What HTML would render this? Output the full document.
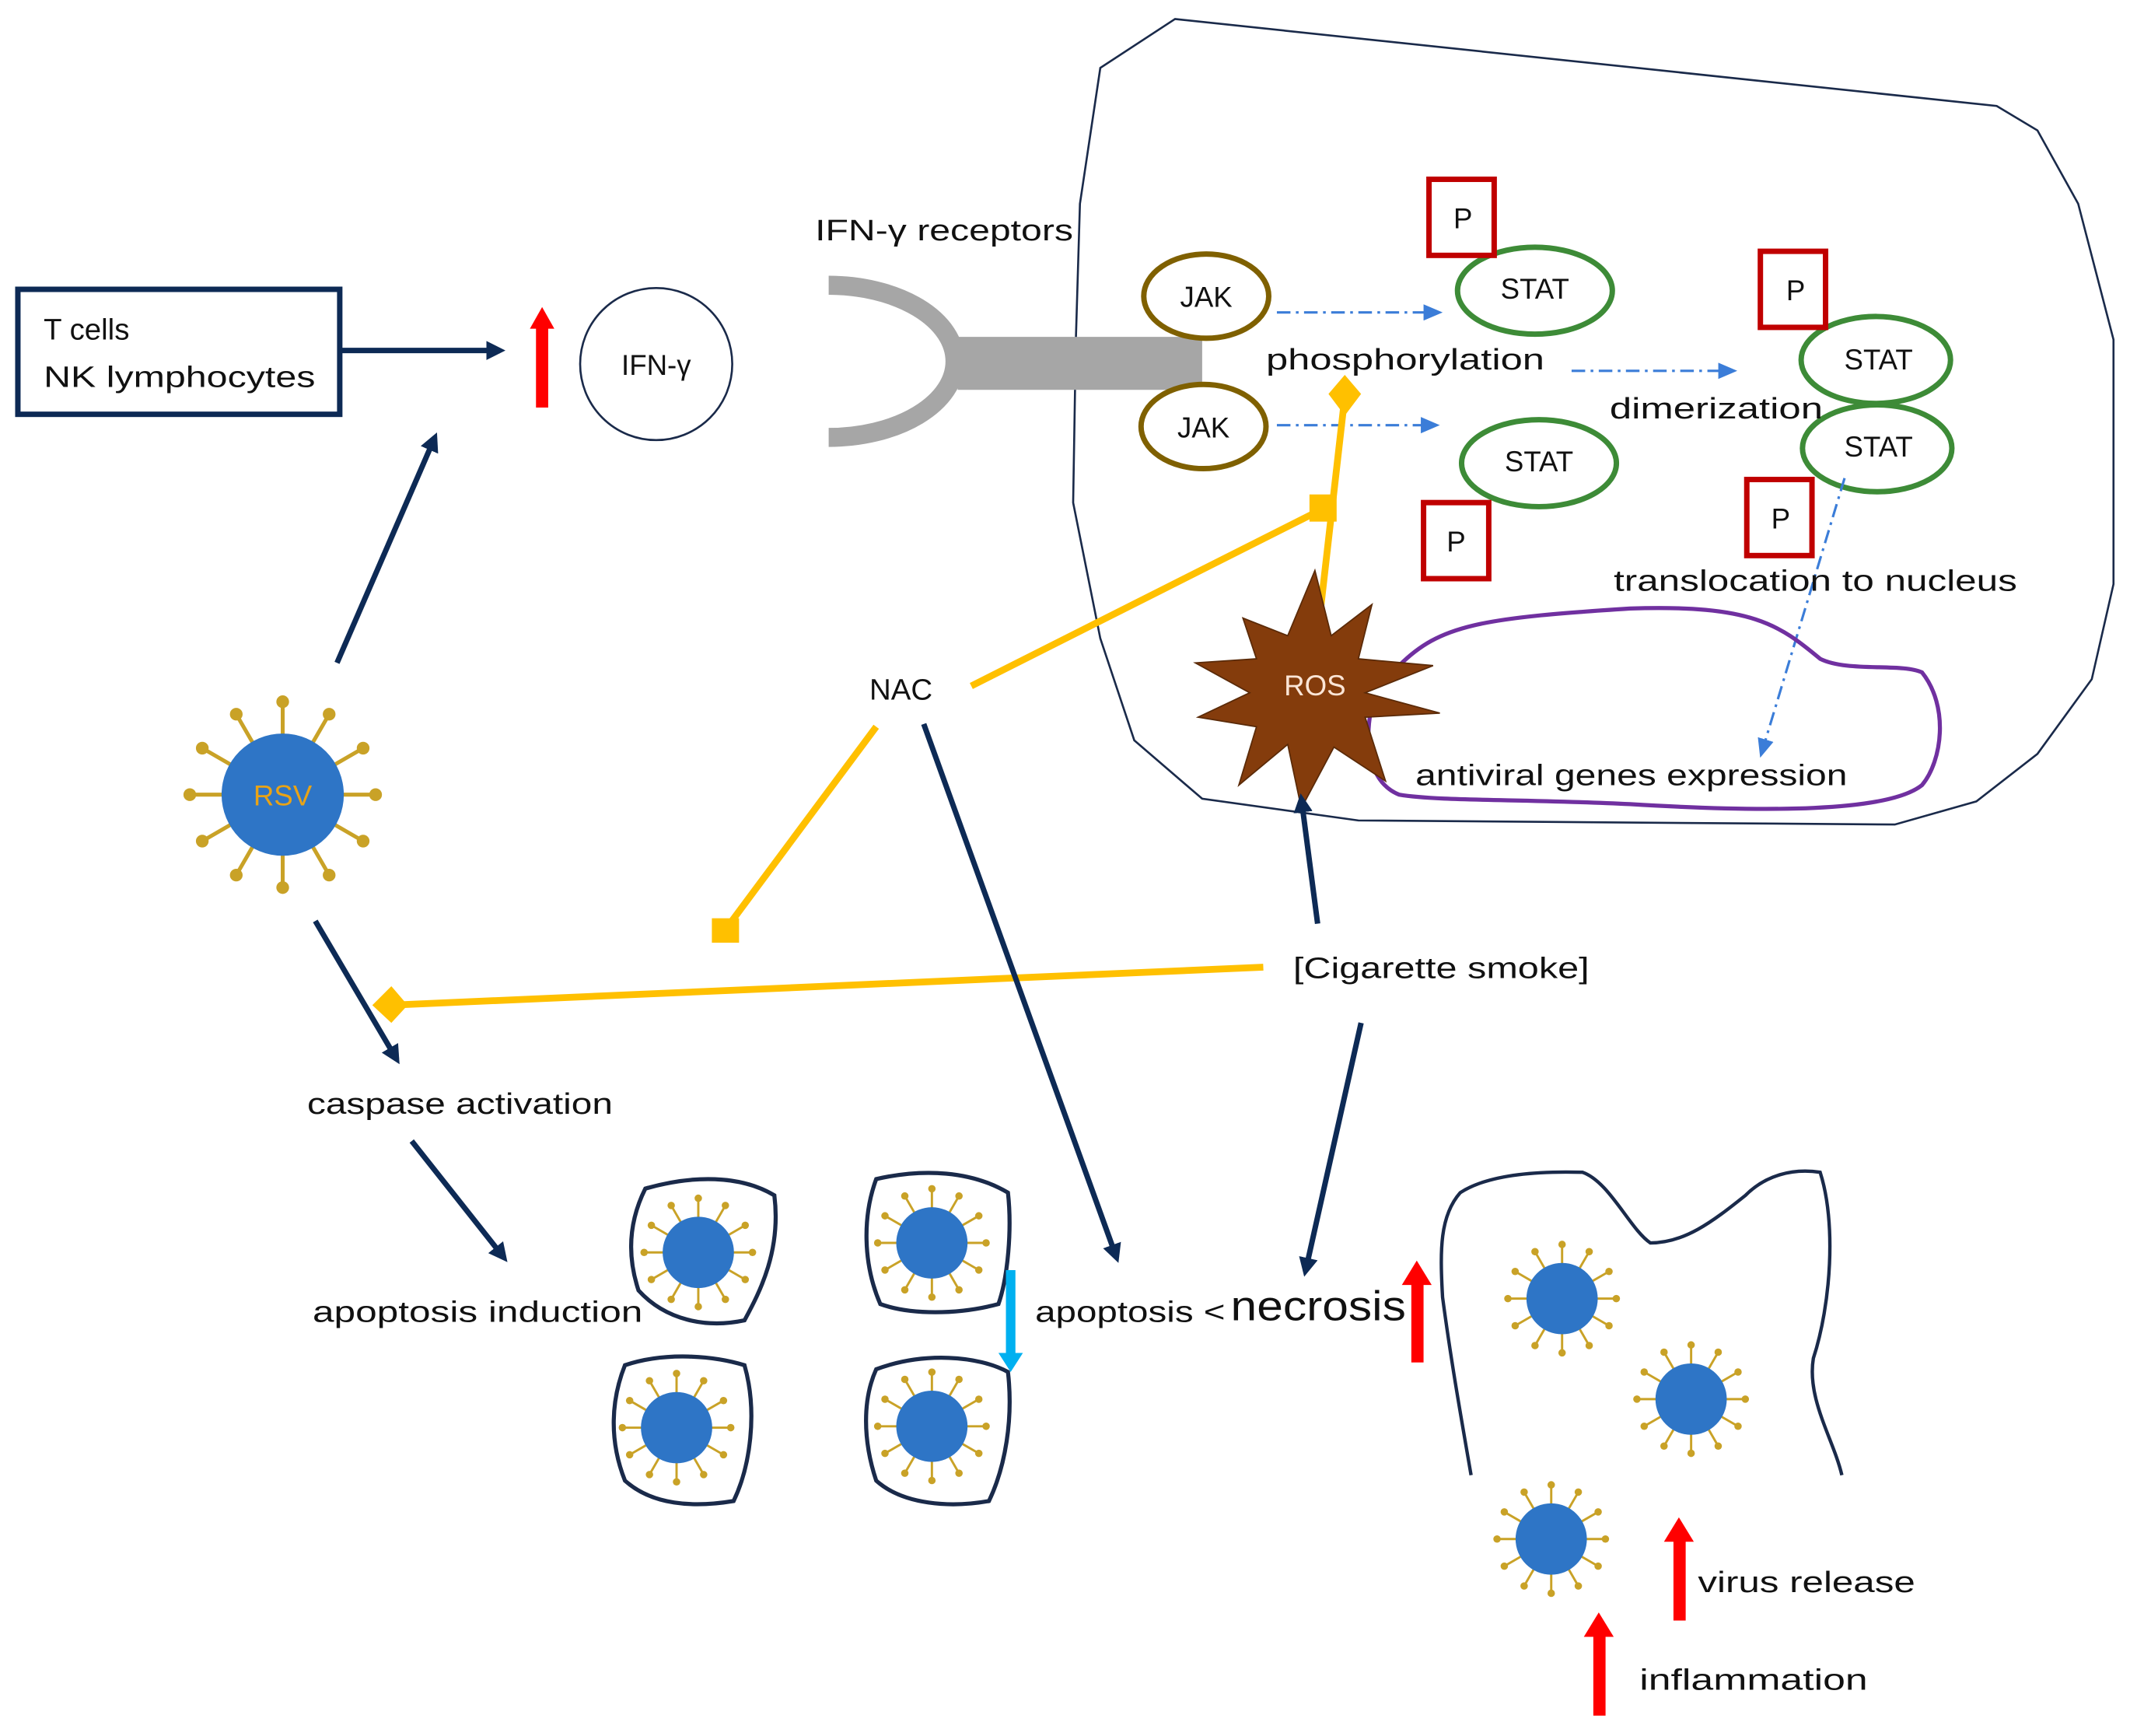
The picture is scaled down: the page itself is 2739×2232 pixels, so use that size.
<!DOCTYPE html>
<html><head><meta charset="utf-8"><style>
html,body{margin:0;padding:0;background:#fff;}
svg{display:block;}
text{font-family:"Liberation Sans",sans-serif;fill:#111;}
</style></head><body>
<svg width="2739" height="2232" viewBox="0 0 1568 1278" xmlns="http://www.w3.org/2000/svg">
<defs>
<marker id="an" markerWidth="8" markerHeight="8" refX="6" refY="4" orient="auto" markerUnits="userSpaceOnUse"><path d="M0,0 L8,4 L0,8 Z" fill="#0d2a55"/></marker>
<marker id="an2" markerWidth="14" markerHeight="14" refX="10" refY="7" orient="auto" markerUnits="userSpaceOnUse"><path d="M0,0 L14,7 L0,14 Z" fill="#0d2a55"/></marker>
<marker id="ab" markerWidth="14" markerHeight="12" refX="10" refY="6" orient="auto" markerUnits="userSpaceOnUse"><path d="M0,0 L14,6 L0,12 Z" fill="#3b7dd8"/></marker>
<g id="vir">
<g stroke="#c9a227" stroke-width="1.6">
<line x1="0" y1="0" x2="38" y2="0"/><line x1="0" y1="0" x2="32.9" y2="19"/><line x1="0" y1="0" x2="19" y2="32.9"/><line x1="0" y1="0" x2="0" y2="38"/><line x1="0" y1="0" x2="-19" y2="32.9"/><line x1="0" y1="0" x2="-32.9" y2="19"/><line x1="0" y1="0" x2="-38" y2="0"/><line x1="0" y1="0" x2="-32.9" y2="-19"/><line x1="0" y1="0" x2="-19" y2="-32.9"/><line x1="0" y1="0" x2="0" y2="-38"/><line x1="0" y1="0" x2="19" y2="-32.9"/><line x1="0" y1="0" x2="32.9" y2="-19"/>
</g>
<g fill="#c9a227">
<circle cx="38" cy="0" r="2.6"/><circle cx="32.9" cy="19" r="2.6"/><circle cx="19" cy="32.9" r="2.6"/><circle cx="0" cy="38" r="2.6"/><circle cx="-19" cy="32.9" r="2.6"/><circle cx="-32.9" cy="19" r="2.6"/><circle cx="-38" cy="0" r="2.6"/><circle cx="-32.9" cy="-19" r="2.6"/><circle cx="-19" cy="-32.9" r="2.6"/><circle cx="0" cy="-38" r="2.6"/><circle cx="19" cy="-32.9" r="2.6"/><circle cx="32.9" cy="-19" r="2.6"/>
</g>
<circle cx="0" cy="0" r="25" fill="#2e75c6"/>
</g>
</defs>

<!-- big cell -->
<path d="M865,14 L1470,78 L1500,96 L1530,150 L1556,250 L1556,430 L1540,500 L1500,555 L1455,590 L1395,607 L1000,604 L885,588 L835,545 L810,470 L790,370 L792,250 L795,150 L810,50 Z" fill="none" stroke="#1a2a4a" stroke-width="1.5"/>

<!-- T cells box -->
<rect x="13" y="213" width="237" height="92" fill="#fff" stroke="#0d2a55" stroke-width="4"/>
<text x="32" y="250" font-size="22">T cells</text>
<text x="32" y="285" font-size="22" textLength="200" lengthAdjust="spacingAndGlyphs">NK lymphocytes</text>
<line x1="250" y1="258" x2="368" y2="258" stroke="#0d2a55" stroke-width="4" marker-end="url(#an2)"/>

<!-- red arrow IFN -->
<line x1="399" y1="300" x2="399" y2="240" stroke="#ff0000" stroke-width="9"/>
<path d="M390,242 L399,226 L408,242 Z" fill="#ff0000"/>
<circle cx="483" cy="268" r="56" fill="#fff" stroke="#1a2a4a" stroke-width="1.5"/>
<text x="483" y="276" font-size="21" text-anchor="middle">IFN-γ</text>

<text x="600" y="177" font-size="22" textLength="190" lengthAdjust="spacingAndGlyphs">IFN-γ receptors</text>
<path d="M610,210 A93,56 0 0 1 610,322" fill="none" stroke="#a6a6a6" stroke-width="14"/>
<rect x="705" y="248" width="180" height="39" fill="#a6a6a6"/>

<!-- JAK -->
<ellipse cx="888" cy="218" rx="46" ry="31" fill="#fff" stroke="#7f6000" stroke-width="4"/>
<text x="888" y="226" font-size="21" text-anchor="middle">JAK</text>
<ellipse cx="886" cy="314" rx="46" ry="31" fill="#fff" stroke="#7f6000" stroke-width="4"/>
<text x="886" y="322" font-size="21" text-anchor="middle">JAK</text>

<!-- STAT -->
<g fill="#fff" stroke="#3d8b37" stroke-width="4">
<ellipse cx="1130" cy="214" rx="57" ry="32"/>
<ellipse cx="1133" cy="341" rx="57" ry="32"/>
<ellipse cx="1381" cy="265" rx="55" ry="32"/>
<ellipse cx="1382" cy="330" rx="55" ry="32"/>
</g>
<g font-size="21" text-anchor="middle">
<text x="1130" y="220">STAT</text><text x="1133" y="347">STAT</text>
<text x="1383" y="272">STAT</text><text x="1383" y="336">STAT</text>
</g>

<!-- P boxes -->
<g fill="#fff" stroke="#c00000" stroke-width="4">
<rect x="1052" y="132" width="48" height="56"/>
<rect x="1296" y="185" width="48" height="56"/>
<rect x="1048" y="370" width="48" height="56"/>
<rect x="1286" y="353" width="48" height="56"/>
</g>
<g font-size="21" text-anchor="middle">
<text x="1077" y="168">P</text><text x="1322" y="221">P</text>
<text x="1072" y="406">P</text><text x="1311" y="389">P</text>
</g>

<!-- blue dash-dot arrows -->
<g stroke="#3b7dd8" stroke-width="1.8" stroke-dasharray="10,4,2,4" fill="none">
<line x1="940" y1="230" x2="1058" y2="230" marker-end="url(#ab)"/>
<line x1="940" y1="313" x2="1056" y2="313" marker-end="url(#ab)"/>
<line x1="1157" y1="273" x2="1275" y2="273" marker-end="url(#ab)"/>
<line x1="1358" y1="352" x2="1297" y2="554" marker-end="url(#ab)"/>
</g>

<text x="932" y="272" font-size="22" textLength="205" lengthAdjust="spacingAndGlyphs">phosphorylation</text>
<text x="1185" y="308" font-size="22" textLength="157" lengthAdjust="spacingAndGlyphs">dimerization</text>
<text x="1188" y="435" font-size="22" textLength="297" lengthAdjust="spacingAndGlyphs">translocation to nucleus</text>

<!-- purple nucleus -->
<path d="M1030,490 C1060,460 1090,455 1200,448 C1290,445 1310,460 1340,485 C1360,495 1400,488 1415,495 C1435,520 1430,560 1415,578 C1390,598 1300,598 1200,592 C1120,588 1060,590 1030,585 C1005,575 1005,540 1010,520" fill="none" stroke="#7030a0" stroke-width="3"/>
<text x="1042" y="578" font-size="22" textLength="318" lengthAdjust="spacingAndGlyphs">antiviral genes expression</text>

<!-- yellow inhibitors -->
<g stroke="#ffc000" stroke-width="5" fill="none">
<line x1="972" y1="450" x2="990" y2="292"/>
<line x1="715" y1="505" x2="975" y2="374"/>
<line x1="645" y1="535" x2="535" y2="683"/>
<line x1="930" y1="712" x2="287" y2="740"/>
</g>
<g fill="#ffc000">
<path d="M990,276 L1002,290 L990,306 L978,290 Z"/>
<rect x="964" y="364" width="20" height="20"/>
<rect x="524" y="676" width="20" height="18"/>
<path d="M274,740 L288,726 L300,740 L288,753 Z"/>
</g>

<!-- ROS star -->
<path d="M968,420 L980,468 L1010,445 L1000,485 L1055,490 L1005,510 L1060,525 L1005,528 L1020,575 L982,550 L958,595 L948,548 L912,578 L925,535 L882,528 L920,510 L880,488 L925,485 L915,455 L948,468 Z" fill="#843c0c" stroke="#5a2a08" stroke-width="1"/>
<text x="968" y="512" font-size="21" text-anchor="middle" style="fill:#fbe5d6">ROS</text>

<text x="640" y="515" font-size="22">NAC</text>

<!-- RSV -->
<use href="#vir" transform="translate(208,585) scale(1.8)"/>
<text x="208" y="593" font-size="21" text-anchor="middle" style="fill:#e8a317">RSV</text>

<!-- navy arrows -->
<g stroke="#0d2a55" stroke-width="4" fill="none" marker-end="url(#an2)">
<line x1="248" y1="488" x2="320" y2="322"/>
<line x1="232" y1="678" x2="292" y2="780"/>
<line x1="303" y1="840" x2="371" y2="926"/>
<line x1="680" y1="533" x2="822" y2="926"/>
<line x1="1002" y1="753" x2="961" y2="936"/>
<line x1="970" y1="680" x2="958" y2="588"/>
</g>

<text x="952" y="720" font-size="22" textLength="218" lengthAdjust="spacingAndGlyphs">[Cigarette smoke]</text>
<text x="226" y="820" font-size="22" textLength="225" lengthAdjust="spacingAndGlyphs">caspase activation</text>
<text x="230" y="973" font-size="22" textLength="243" lengthAdjust="spacingAndGlyphs">apoptosis induction</text>
<text x="762" y="973" font-size="22" textLength="140" lengthAdjust="spacingAndGlyphs">apoptosis &lt;</text>
<text x="906" y="972" font-size="31" textLength="129" lengthAdjust="spacingAndGlyphs">necrosis</text>

<!-- small apoptotic cells -->
<g fill="#fff" stroke="#1a2a4a" stroke-width="3">
<path d="M475,875 C510,865 545,865 570,880 C575,920 560,950 548,972 C520,978 490,972 470,950 C460,920 465,895 475,875 Z"/>
<path d="M645,868 C680,860 715,862 742,878 C745,905 742,940 735,960 C705,968 670,968 648,960 C635,930 635,895 645,868 Z"/>
<path d="M460,1005 C490,995 525,998 548,1005 C558,1040 552,1080 540,1105 C510,1110 480,1108 460,1090 C448,1060 450,1030 460,1005 Z"/>
<path d="M645,1008 C680,995 720,998 742,1010 C746,1045 740,1080 728,1105 C700,1110 665,1108 645,1090 C635,1060 635,1030 645,1008 Z"/>
</g>
<use href="#vir" transform="translate(514,922) scale(1.05)"/>
<use href="#vir" transform="translate(686,915) scale(1.05)"/>
<use href="#vir" transform="translate(498,1051) scale(1.05)"/>
<use href="#vir" transform="translate(686,1050) scale(1.05)"/>

<!-- light blue arrow -->
<line x1="744" y1="935" x2="744" y2="998" stroke="#00b0f0" stroke-width="7"/>
<path d="M735,996 L744,1010 L753,996 Z" fill="#00b0f0"/>

<!-- red arrows -->
<g fill="#ff0000">
<rect x="1039" y="944" width="9" height="59"/><path d="M1032,946 L1043,928 L1054,946 Z"/>
<rect x="1232" y="1133" width="9" height="60"/><path d="M1225,1135 L1236,1117 L1247,1135 Z"/>
<rect x="1173" y="1203" width="9" height="60"/><path d="M1166,1205 L1177,1187 L1188,1205 Z"/>
</g>

<!-- necrotic cell -->
<path d="M1083,1086 C1075,1040 1068,1000 1062,955 C1060,920 1060,895 1075,878 C1095,865 1130,862 1165,863 C1185,870 1200,905 1215,915 C1240,915 1260,900 1285,880 C1300,865 1320,860 1340,863 C1352,900 1348,960 1335,1000 C1330,1030 1350,1060 1356,1086" fill="none" stroke="#1a2a4a" stroke-width="2.5"/>
<use href="#vir" transform="translate(1150,956) scale(1.05)"/>
<use href="#vir" transform="translate(1245,1030) scale(1.05)"/>
<use href="#vir" transform="translate(1142,1133) scale(1.05)"/>

<text x="1250" y="1172" font-size="22" textLength="160" lengthAdjust="spacingAndGlyphs">virus release</text>
<text x="1207" y="1244" font-size="22" textLength="168" lengthAdjust="spacingAndGlyphs">inflammation</text>
</svg>
</body></html>
